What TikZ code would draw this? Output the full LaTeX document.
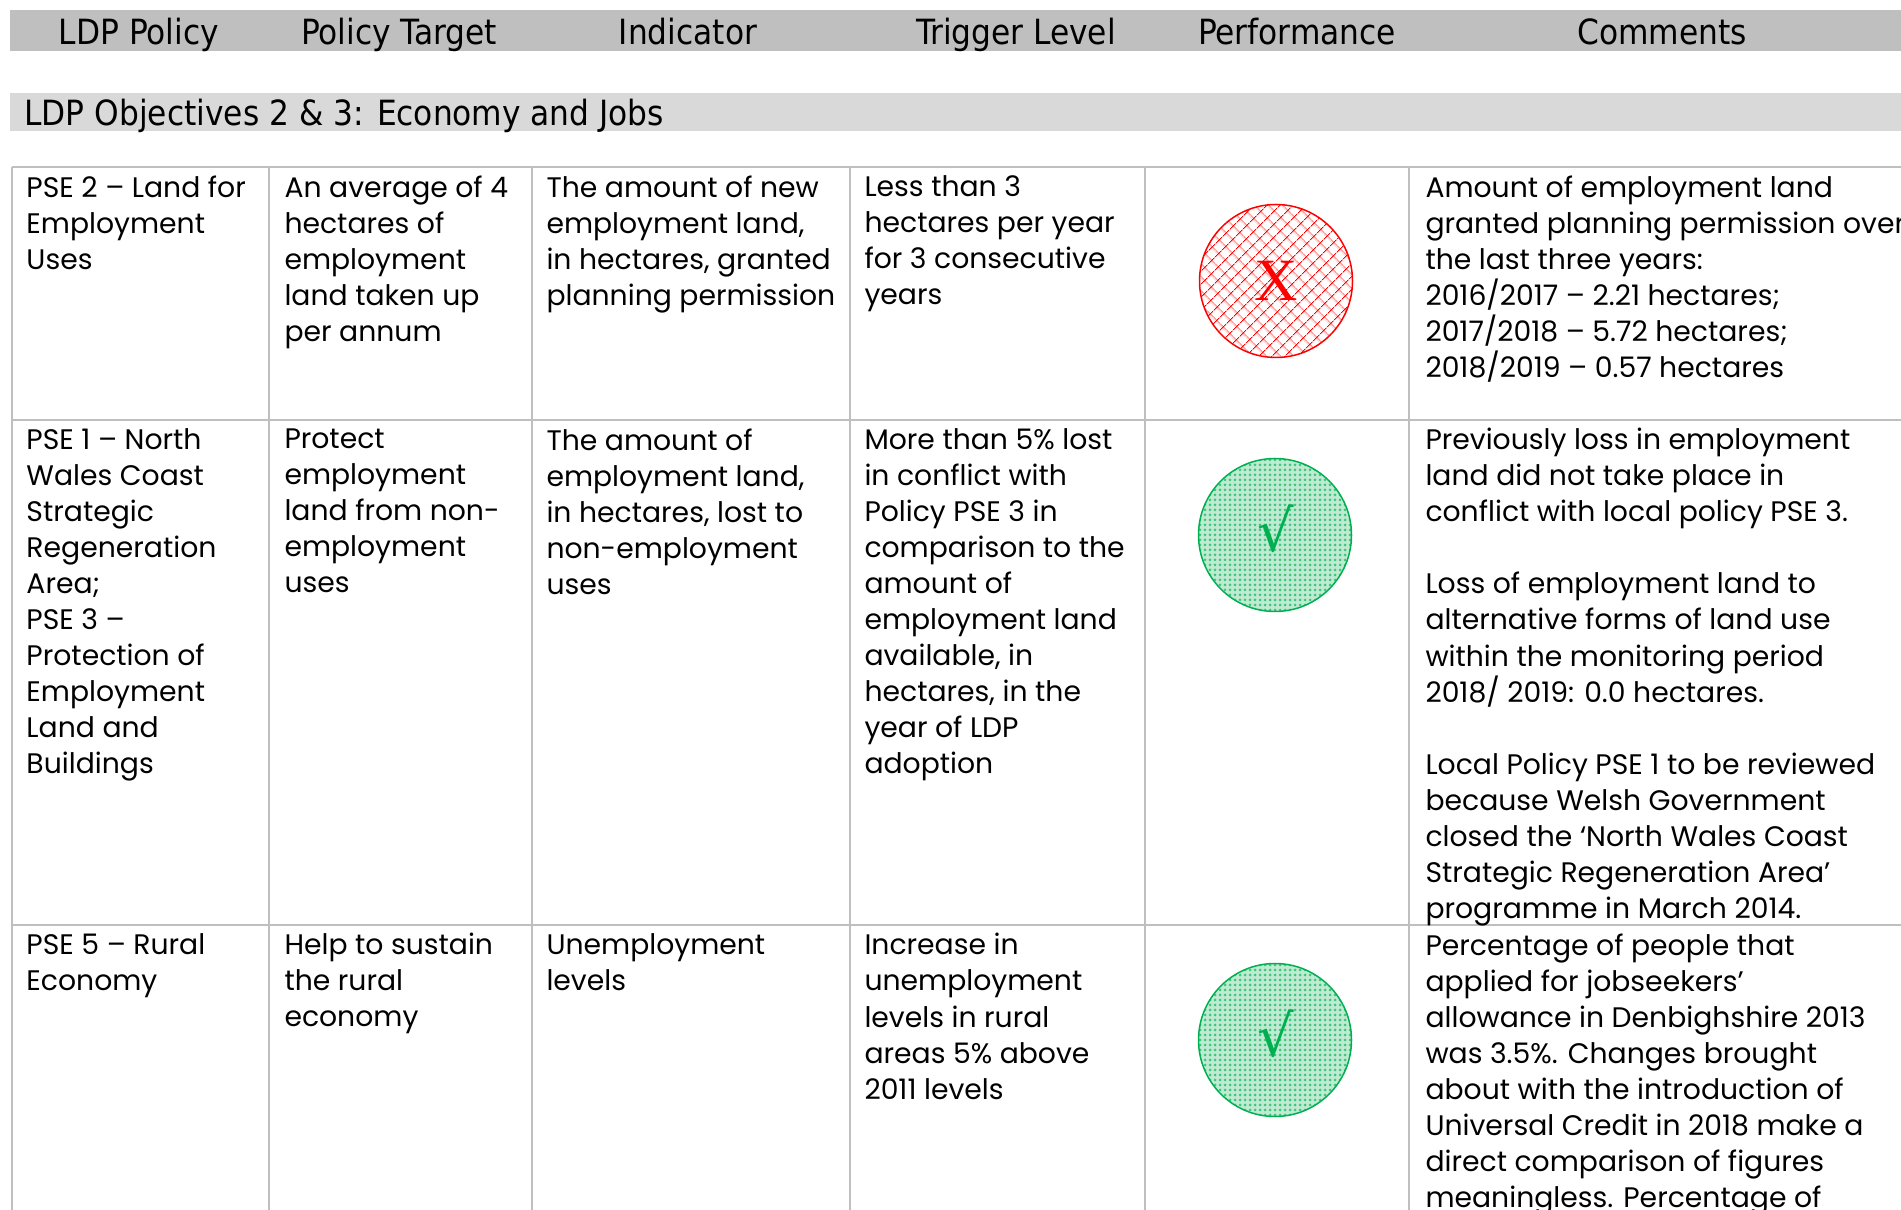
\documentclass[tikz,border=0pt]{standalone}
\usepackage{fontspec}
\setmainfont{Poppins}
\newfontfamily\headfont{DejaVu Sans Condensed}
\newfontfamily\markfont{DejaVu Sans}
\newfontfamily\crossfont{Liberation Serif}
\usetikzlibrary{patterns.meta}
\definecolor{headgray}{HTML}{BFBFBF}
\definecolor{bandgray}{HTML}{D9D9D9}
\definecolor{rulegray}{HTML}{BFBFBF}
\definecolor{markgreen}{HTML}{00B050}
\definecolor{markred}{HTML}{FF0000}
\tikzstyle{headbar}=[fill=headgray,draw=none]
\tikzstyle{band}=[fill=bandgray,draw=none]
\tikzstyle{rule}=[draw=rulegray,line width=0.8pt]
\tikzstyle{headtext}=[font=\headfont\fontsize{13.9}{16}\selectfont,inner sep=0pt,anchor=base]
\tikzstyle{cell}=[anchor=north west,align=left,inner sep=0pt,font=\fontsize{11.3}{14.4}\selectfont,execute at begin node=\strut]
\tikzstyle{failmark}=[circle,draw=markred,line width=0.6pt,minimum size=61.2pt,pattern={Hatch[angle=45,distance=4pt,line width=0.4pt]},pattern color=markred]
\tikzstyle{passmark}=[circle,draw=markgreen,line width=0.6pt,minimum size=61.2pt,preaction={fill=markgreen!25},pattern={Dots[distance=2pt,radius=0.6pt]},pattern color=markgreen!75]
\tikzstyle{crossmark}=[font=\crossfont\fontsize{24}{24}\selectfont,text=markred,inner sep=0pt]
\tikzstyle{tickmark}=[font=\markfont\fontsize{23}{23}\selectfont,text=markgreen,inner sep=0pt]

\begin{document}
\begin{tikzpicture}[x=0.4pt,y=-0.4pt]
    \useasboundingbox (0,0) rectangle (1901,1210);
    \clip (0,0) rectangle (1901,1210);
    % First the heading bar and the objectives band
    \path[headbar] (10,10) rectangle (1901,51);
    \path[band] (10,93) rectangle (1901,131);
    \foreach \pos/\name/\text in {139/hpolicy/LDP Policy, 399/htarget/Policy Target, 688/hindicator/Indicator, 1016/htrigger/Trigger Level, 1297/hperf/Performance, 1662/hcomments/Comments}
        \node[headtext] (\name) at (\pos,45) {\text};
    \node[headtext,anchor=base west] (objectives) at (24,126) {LDP Objectives 2 \& 3: Economy and Jobs};

    % Then the rules of the table
    \foreach \y in {167,420,925}
        \draw[rule] (12,\y) -- (1901,\y);
    \foreach \x in {12,269,532,850,1145,1409}
        \draw[rule] (\x,167) -- (\x,1210);

    % Row 1: PSE 2
    \node[cell] (pse2pol) at (26,175) {PSE 2 – Land for\\Employment\\Uses};
    \node[cell] (pse2tgt) at (284,175) {An average of 4\\hectares of\\employment\\land taken up\\per annum};
    \node[cell] (pse2ind) at (546,175) {The amount of new\\employment land,\\in hectares, granted\\planning permission};
    \node[cell] (pse2trg) at (864,175) {Less than 3\\hectares per year\\for 3 consecutive\\years};
    \node[failmark] (pse2perf) at (1276,281) {};
    \node[crossmark] (pse2x) at (pse2perf) {X};
    \node[cell] (pse2com) at (1425,175) {Amount of employment land\\granted planning permission over\\the last three years:\\2016/2017 – 2.21 hectares;\\2017/2018 – 5.72 hectares;\\2018/2019 – 0.57 hectares};

    % Row 2: PSE 1 and PSE 3
    \node[cell] (pse1pol) at (26,428) {PSE 1 – North\\Wales Coast\\Strategic\\Regeneration\\Area;\\PSE 3 –\\Protection of\\Employment\\Land and\\Buildings};
    \node[cell] (pse1tgt) at (284,428) {Protect\\employment\\land from non-\\employment\\uses};
    \node[cell] (pse1ind) at (546,428) {The amount of\\employment land,\\in hectares, lost to\\non-employment\\uses};
    \node[cell] (pse1trg) at (864,428) {More than 5\% lost\\in conflict with\\Policy PSE 3 in\\comparison to the\\amount of\\employment land\\available, in\\hectares, in the\\year of LDP\\adoption};
    \node[passmark] (pse1perf) at (1275,535) {};
    \node[tickmark] (pse1t) at (1276,529) {√};
    \node[cell] (pse1com) at (1425,428) {Previously loss in employment\\land did not take place in\\conflict with local policy PSE 3.\\[14.4pt]Loss of employment land to\\alternative forms of land use\\within the monitoring period\\2018/ 2019: 0.0 hectares.\\[14.4pt]Local Policy PSE 1 to be reviewed\\because Welsh Government\\closed the ‘North Wales Coast\\Strategic Regeneration Area’\\programme in March 2014.};

    % Row 3: PSE 5
    \node[cell] (pse5pol) at (26,933) {PSE 5 – Rural\\Economy};
    \node[cell] (pse5tgt) at (284,933) {Help to sustain\\the rural\\economy};
    \node[cell] (pse5ind) at (546,933) {Unemployment\\levels};
    \node[cell] (pse5trg) at (864,933) {Increase in\\unemployment\\levels in rural\\areas 5\% above\\2011 levels};
    \node[passmark] (pse5perf) at (1275,1040) {};
    \node[tickmark] (pse5t) at (1276,1034) {√};
    \node[cell] (pse5com) at (1425,933) {Percentage of people that\\applied for jobseekers’\\allowance in Denbighshire 2013\\was 3.5\%. Changes brought\\about with the introduction of\\Universal Credit in 2018 make a\\direct comparison of figures\\meaningless. Percentage of};
\end{tikzpicture}
\end{document}
